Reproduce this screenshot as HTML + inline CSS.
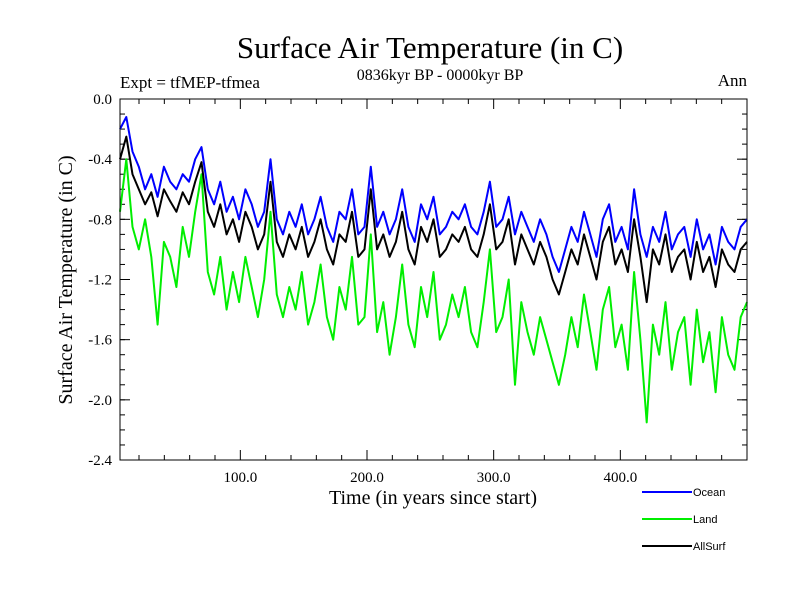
<!DOCTYPE html>
<html><head><meta charset="utf-8"><style>
body{margin:0;background:#fff;}
svg text{font-family:"Liberation Serif",serif;fill:#000;}
</style></head><body>
<svg id="chart" width="800" height="600">
<text x="430" y="58" font-size="31" text-anchor="middle">Surface Air Temperature (in C)</text>
<text x="440" y="80" font-size="16" text-anchor="middle">0836kyr BP - 0000kyr BP</text>
<text x="120" y="88" font-size="17">Expt = tfMEP-tfmea</text>
<text x="747" y="86" font-size="17" text-anchor="end">Ann</text>
<text transform="translate(72,280) rotate(-90)" font-size="20" text-anchor="middle">Surface Air Temperature (in C)</text>
<text x="433" y="504" font-size="20" text-anchor="middle">Time (in years since start)</text>
<g id="ticks"></g>
<g id="lines"></g>
<rect x="120" y="99" width="627" height="361" fill="none" stroke="#000" stroke-width="1"/>
<g>
<line x1="642" y1="492" x2="692" y2="492" stroke="#0000ff" stroke-width="2"/>
<text x="693" y="496" font-size="11" style="font-family:'Liberation Sans',sans-serif">Ocean</text>
<line x1="642" y1="519" x2="692" y2="519" stroke="#00ee00" stroke-width="2"/>
<text x="693" y="523" font-size="11" style="font-family:'Liberation Sans',sans-serif">Land</text>
<line x1="642" y1="546" x2="692" y2="546" stroke="#000" stroke-width="2"/>
<text x="693" y="550" font-size="11" style="font-family:'Liberation Sans',sans-serif">AllSurf</text>
</g>
</svg>
<script>
const ocean=[-0.2,-0.12,-0.35,-0.45,-0.6,-0.5,-0.65,-0.45,-0.55,-0.6,-0.5,-0.55,-0.4,-0.32,-0.6,-0.7,-0.55,-0.75,-0.65,-0.8,-0.6,-0.7,-0.85,-0.75,-0.4,-0.8,-0.9,-0.75,-0.85,-0.7,-0.9,-0.8,-0.65,-0.85,-0.95,-0.75,-0.8,-0.6,-0.9,-0.85,-0.45,-0.85,-0.75,-0.9,-0.8,-0.6,-0.85,-0.95,-0.7,-0.8,-0.65,-0.9,-0.85,-0.75,-0.8,-0.7,-0.85,-0.9,-0.75,-0.55,-0.85,-0.8,-0.65,-0.9,-0.75,-0.85,-0.95,-0.8,-0.9,-1.05,-1.15,-1.0,-0.85,-0.95,-0.75,-0.9,-1.05,-0.8,-0.7,-0.95,-0.85,-1.0,-0.6,-0.9,-1.05,-0.85,-0.95,-0.75,-1.0,-0.9,-0.85,-1.05,-0.8,-1.0,-0.9,-1.1,-0.85,-0.95,-1.0,-0.85,-0.8];
const land=[-0.75,-0.4,-0.85,-1.0,-0.8,-1.05,-1.5,-0.95,-1.05,-1.25,-0.85,-1.05,-0.75,-0.5,-1.15,-1.3,-1.05,-1.4,-1.15,-1.35,-1.05,-1.25,-1.45,-1.2,-0.75,-1.3,-1.45,-1.25,-1.4,-1.15,-1.5,-1.35,-1.1,-1.45,-1.6,-1.25,-1.4,-1.05,-1.5,-1.45,-0.9,-1.55,-1.35,-1.7,-1.45,-1.1,-1.5,-1.65,-1.25,-1.45,-1.15,-1.6,-1.5,-1.3,-1.45,-1.25,-1.55,-1.65,-1.35,-1.0,-1.55,-1.45,-1.2,-1.9,-1.35,-1.55,-1.7,-1.45,-1.6,-1.75,-1.9,-1.7,-1.45,-1.65,-1.3,-1.55,-1.8,-1.4,-1.25,-1.65,-1.5,-1.8,-1.15,-1.6,-2.15,-1.5,-1.7,-1.35,-1.8,-1.55,-1.45,-1.9,-1.4,-1.75,-1.55,-1.95,-1.45,-1.7,-1.8,-1.45,-1.35];
const allsurf=[-0.4,-0.25,-0.5,-0.6,-0.7,-0.62,-0.78,-0.6,-0.68,-0.75,-0.62,-0.7,-0.55,-0.42,-0.75,-0.85,-0.7,-0.9,-0.8,-0.95,-0.75,-0.85,-1.0,-0.9,-0.55,-0.95,-1.05,-0.9,-1.0,-0.85,-1.05,-0.95,-0.8,-1.0,-1.1,-0.9,-0.95,-0.75,-1.05,-1.0,-0.6,-1.0,-0.9,-1.05,-0.95,-0.75,-1.0,-1.1,-0.85,-0.95,-0.8,-1.05,-1.0,-0.9,-0.95,-0.85,-1.0,-1.05,-0.9,-0.7,-1.0,-0.95,-0.8,-1.1,-0.9,-1.0,-1.1,-0.95,-1.05,-1.2,-1.3,-1.15,-1.0,-1.1,-0.9,-1.05,-1.2,-0.95,-0.85,-1.1,-1.0,-1.15,-0.8,-1.05,-1.35,-1.0,-1.1,-0.9,-1.15,-1.05,-1.0,-1.2,-0.95,-1.15,-1.05,-1.25,-1.0,-1.1,-1.15,-1.0,-0.95];
const yTicks=[0.0,-0.4,-0.8,-1.2,-1.6,-2.0,-2.4];
const xTicks=[100,200,300,400];
const xMin=5,xMax=500,yMin=-2.4,yMax=0;
const L=120,R=747,T=99,B=460;
function xs(v){return L+(v-xMin)/(xMax-xMin)*(R-L);}
function ys(v){return T+(yMax-v)/(yMax-yMin)*(B-T);}
const NS="http://www.w3.org/2000/svg";
const tg=document.getElementById('ticks'), lg=document.getElementById('lines');
function mk(tag,attrs,parent){const e=document.createElementNS(NS,tag);for(const k in attrs)e.setAttribute(k,attrs[k]);parent.appendChild(e);return e;}
yTicks.forEach(v=>{
  const y=ys(v);
  const t=mk('line',{x1:L,x2:L+10,y1:y,y2:y,stroke:'#000'},tg);
  
  
  const t2=mk('line',{x1:R-10,x2:R,y1:y,y2:y,stroke:'#000'},tg);
  
  
  const lb=mk('text',{x:L-8,y:y+5,'font-size':15,'text-anchor':'end'},tg);
  lb.textContent=v.toFixed(1);
  
  
});
for(let v=yMax;v>=yMin-1e-9;v-=0.1){const y=ys(v);mk('line',{x1:L,x2:L+5,y1:y,y2:y,stroke:'#000'},tg);mk('line',{x1:R-5,x2:R,y1:y,y2:y,stroke:'#000'},tg);}
for(let v=20;v<=xMax;v+=20){const x=xs(v);const len=(v%100===0)?10:5;mk('line',{x1:x,x2:x,y1:B-len,y2:B,stroke:'#000'},tg);mk('line',{x1:x,x2:x,y1:T,y2:T+len,stroke:'#000'},tg);}
xTicks.forEach(v=>{
  const lb=mk('text',{x:xs(v),y:B+22,'font-size':15,'text-anchor':'middle'},tg);
  lb.textContent=v.toFixed(1);
  
  
});
function draw(arr,color,name){
  const n=arr.length;
  const pts=arr.map((v,i)=>xs(xMin+i*(xMax-xMin)/(n-1)).toFixed(1)+','+ys(v).toFixed(1)).join(' ');
  const p=mk('polyline',{points:pts,fill:'none',stroke:color,'stroke-width':2,'stroke-linejoin':'round'},lg);
  
  
}
draw(land,'#00ee00','land-line');
draw(ocean,'#0000ff','ocean-line');
draw(allsurf,'#000000','allsurf-line');
</script>
</body></html>
